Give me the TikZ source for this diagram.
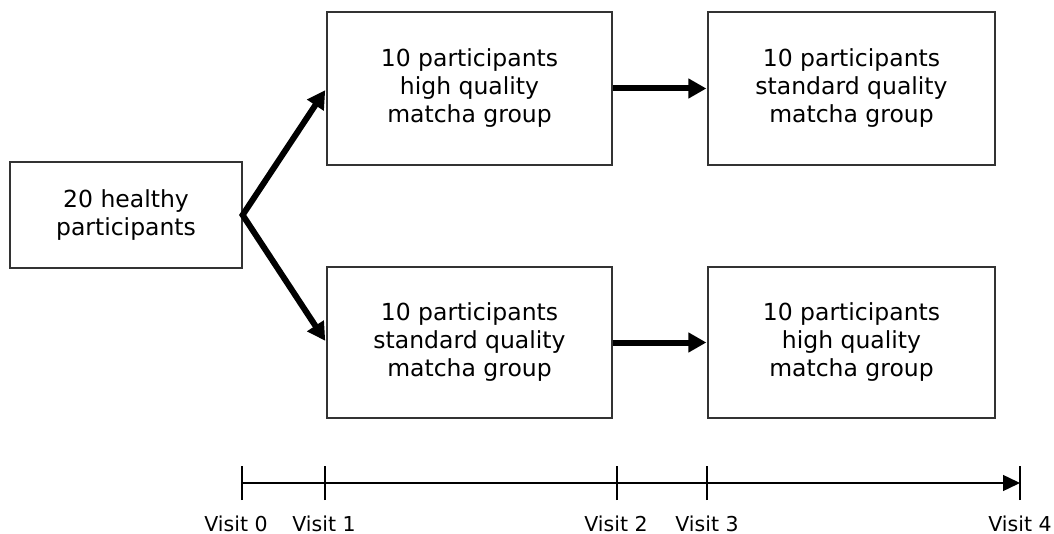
\documentclass[tikz,border=0pt]{standalone}
\usepackage{fontspec}
\setmainfont{DejaVu Sans}
\usetikzlibrary{arrows.meta}
\definecolor{boxline}{HTML}{333333}
\begin{document}
\begin{tikzpicture}[x=1pt,y=-1pt,
  box/.style={draw=boxline,line width=1.3pt,align=center,inner sep=0pt,
    font=\fontsize{23.5}{28}\selectfont},
  thickarrow/.style={line width=6pt,-{Triangle[length=18pt,width=19pt]},shorten >=1pt},
  forkarrow/.style={line width=6pt,line join=miter,
    {Triangle[length=18pt,width=19pt]}-{Triangle[length=18pt,width=19pt]},shorten >=2pt,shorten <=2pt},
  timeline/.style={line width=1.4pt},
  tick/.style={line width=1.4pt},
  visit/.style={anchor=base,inner sep=0pt,font=\fontsize{20.5}{24}\selectfont}]
\useasboundingbox (0,0) rectangle (1054,534);
\node[box,minimum width=232pt,minimum height=106pt] (A) at (126,215) {20 healthy\\participants};
\node[box,minimum width=285pt,minimum height=153pt] (B) at (469.5,88.5) {10 participants\\high quality\\matcha group};
\node[box,minimum width=287pt,minimum height=153pt] (C) at (851.5,88.5) {10 participants\\standard quality\\matcha group};
\node[box,minimum width=285pt,minimum height=151pt] (D) at (469.5,342.5) {10 participants\\standard quality\\matcha group};
\node[box,minimum width=287pt,minimum height=151pt] (E) at (851.5,342.5) {10 participants\\high quality\\matcha group};
\draw[forkarrow] (B.west) -- (A.east) -- (D.west);
\draw[thickarrow] (B.east) -- (C.west);
\draw[thickarrow] (D.east) -- (E.west);
% timeline
\coordinate (t0) at (242,483);
\coordinate (t1) at (325,483);
\coordinate (t2) at (617,483);
\coordinate (t3) at (707,483);
\coordinate (t4) at (1020,483);
\draw[timeline,-{Triangle[length=17pt,width=16pt]}] (t0) -- (t4);
\foreach \t in {t0,t1,t2,t3,t4}{
  \draw[tick] ([yshift=-17pt]\t) -- ([yshift=17pt]\t);
}
\node[visit] (v0) at (236,531) {Visit 0};
\node[visit] (v1) at (324,531) {Visit 1};
\node[visit] (v2) at (616,531) {Visit 2};
\node[visit] (v3) at (707,531) {Visit 3};
\node[visit] (v4) at (1020,531) {Visit 4};
\end{tikzpicture}
\end{document}
